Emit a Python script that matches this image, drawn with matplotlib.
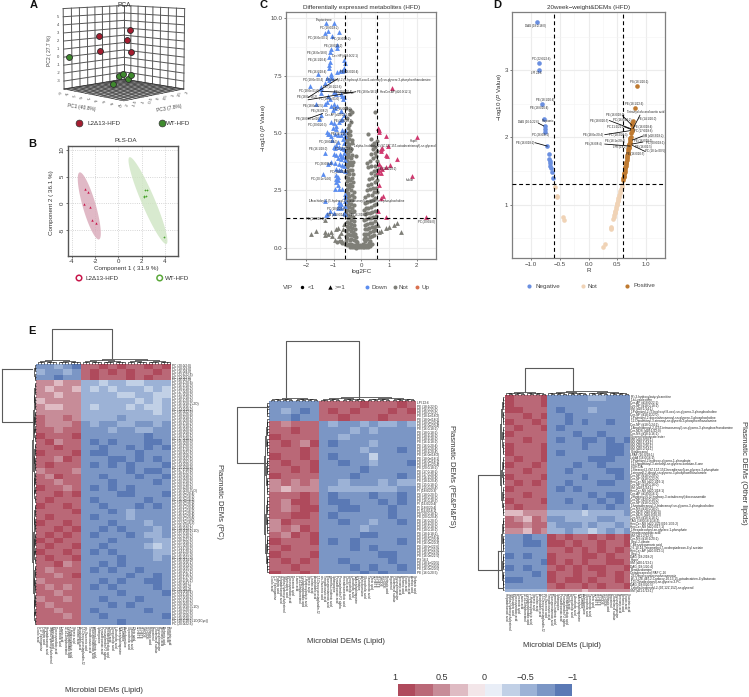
import numpy as np
import matplotlib
matplotlib.use("Agg")
import matplotlib.pyplot as plt
from matplotlib.collections import LineCollection
from matplotlib.colors import ListedColormap
from mpl_toolkits.mplot3d import proj3d

plt.rcParams['font.family'] = ['Liberation Sans', 'DejaVu Sans']
plt.rcParams['mathtext.fontset'] = 'custom'
plt.rcParams['mathtext.it'] = 'Liberation Sans:italic'
plt.rcParams['mathtext.rm'] = 'Liberation Sans'
W, H = 749, 697
fig = plt.figure(figsize=(W/100, H/100), dpi=100)

def ax_px(x0, y0, x1, y1, **kw):
    return fig.add_axes([x0/W, 1-y1/H, (x1-x0)/W, (y1-y0)/H], **kw)

over = ax_px(0, 0, W, H)
over.set_xlim(0, W); over.set_ylim(H, 0); over.axis('off'); over.set_zorder(5)

# ---------- Panel A data
PCA_RED_PC1 = [2.77, -1.26, 2.37, -1.14, 2.99]
PCA_RED_PC3 = [0.19, -0.82, 0.09, -0.78, 0.25]
PCA_RED_PC2 = [3.32, 2.58, 2.19, 0.71, 0.67]
PCA_GRN_PC1 = [-5.34, 1.89, 1.36, 2.99, 2.54, 0.58]
PCA_GRN_PC3 = [-1.84, -0.03, -0.16, 0.25, 0.14, -0.36]
PCA_GRN_PC2 = [-0.03, -2.09, -2.40, -2.29, -2.79, -3.42]
PC1_TICKS = [-6, -4, -2, 0, 2, 4, 6, 8, 10]
PC3_TICKS = [-2, -1.5, -1, -0.5, 0, 0.5, 1, 1.5, 2]
PC2_TICKS = [-3, -2, -1, 0, 1, 2, 3, 4, 5]

# ---------- Panel B data
PLS_RED_X = [-2.83, -2.6, -2.91, -2.46, -2.26, -1.94]
PLS_RED_Y = [2.69, 2.06, -0.06, -0.63, -3.13, -3.75]
PLS_GRN_X = [2.26, 2.46, 2.2, 2.37, 2.2, 3.89]
PLS_GRN_Y = [2.44, 2.56, 1.38, 1.31, 1.1, -6.31]
RED_ELLIPSE = dict(c=(-2.49, -0.5), a=(-0.8, 6.3), b=(0.58, 0))
GRN_ELLIPSE = dict(c=(2.54, 0.5), a=(-1.55, 8.15), b=(0.62, 0))

# ---------- Panel C data
C_DOWN = [(-1.27,9.78),(-.98,9.81),(-.8,9.42),(-1.22,9.45),(-1.31,9.35),(-1.07,9.24),(-.87,8.69),(-.87,8.82),(-1.1,8.65),(-1.13,8.55),
(-1.15,8.33),(-.62,8.18),(-.6,8.04),(-1.14,8.1),(-1.15,7.95),(-1.17,7.85),(-.61,7.85),(-.63,7.75),(-.68,7.72),(-.78,7.7),(-.87,7.68),
(-1.57,7.56),(-1.08,7.57),(-1.1,7.48),(-1.05,7.42),(-1.23,7.38),(-1.15,7.3),(-1.87,7.05),(-1.32,7.2),(-1.44,7.0),(-1.46,6.9),(-1.47,6.75),
(-.98,6.78),(-.9,6.72),(-.75,6.7),(-.7,6.62),(-.62,6.55),(-.65,6.48),(-1.2,6.6),(-1.13,6.5),(-1.25,6.35),(-1.62,6.27),(-1.3,6.25),(-1.1,6.2),
(-1.0,6.25),(-.88,6.2),(-.96,6.08),(-1.03,6.0),(-.75,5.98),(-1.45,5.8),(-1.52,5.6),(-.72,5.95),(-.62,5.8),(-.68,5.6),(-.75,5.55),(-1.08,5.5),
(-.98,5.42),(-.8,5.5),(-.9,5.3),(-1.02,5.2),(-.92,5.18),(-.7,5.15),(-.6,5.15),(-.62,5.0),(-1.25,5.05),(-1.22,4.98),(-1.15,4.95),(-1.1,4.85),
(-.95,4.95),(-.85,4.9),(-.75,4.9),(-.6,4.85),(-.65,4.75),(-1.05,4.68),(-.85,4.6),(-.62,4.55),(-.92,4.5),(-1.0,4.4),(-.95,4.35),(-.8,4.4),
(-.7,4.35),(-.62,4.3),(-1.32,4.15),(-.98,4.1),(-.9,4.05),(-.78,4.1),(-.62,4.15),(-.72,4.0),(-.65,3.95),(-.85,3.9),(-.72,3.85),(-.6,3.82),
(-1.1,3.75),(-.95,3.7),(-.8,3.65),(-.68,3.6),(-1.2,3.65),(-.62,3.55),(-.92,3.42),(-.72,3.4),(-.8,3.38),(-.6,3.35),(-1.38,3.2),(-.9,3.15),
(-.83,3.1),(-.92,3.0),(-.85,2.95),(-.9,2.85),(-.85,2.75),(-.82,2.55),(-.95,2.58),(-.68,2.55),(-.6,2.35),(-.6,2.2),(-.6,2.05),(-1.31,2.03),
(-.8,1.98),(-.75,1.92),(-.82,1.85),(-.75,1.75),(-.85,1.72),(-.6,1.8),(-1.12,1.6),(-1.0,1.5),(-1.25,1.45),(-1.27,1.42),(-.62,1.5),(-.6,1.45)]
C_UP = [(1.1,6.97),(.6,5.2),(.63,5.15),(.65,5.05),(.9,4.85),(2.0,4.82),(.96,4.45),(.76,4.35),(.72,4.3),(.7,4.2),(.88,4.05),(.92,3.98),(1.3,3.85),
(.65,3.65),(1.04,3.6),(.7,3.5),(.75,3.45),(.9,3.5),(.65,3.4),(.62,3.3),(.7,3.25),(1.85,3.14),(.65,2.73),(.78,2.25),(.7,2.15),(.62,1.62),(.88,1.35),(2.32,1.32)]
C_NOT_TRI = [(-1.83,.6),(-1.63,.72),(-1.32,1.2),(-1.3,.7),(-1.3,.55),(-1.2,.6),(-1.1,.7),(-1.05,.5),(-.95,.35),(-.9,.8),(-.85,.85),(-.8,.5),(-.75,.65),
(-.7,.3),(-.65,.8),(-.62,1.05),(.65,.7),(.72,.72),(.88,.85),(1.0,.9),(1.17,1.0),(1.3,1.08),(1.42,.68),(.6,1.0)]
C_NOT = [(-.42,.05),(-.35,.02),(-.28,.05),(-.2,.0),(-.15,.03),(-.08,.02),(0,.03),(.05,.02),(.1,.05),(.18,.03),(.25,.05),(.32,.08),(.38,.15),(-.5,.1),
(-.6,.18),(-.68,.22),(-.78,.3),(-.88,.25),(-.55,.28),(-.45,.18),(-.38,.15),(-.3,.12),(-.22,.1),(-.12,.1),(-.05,.12),(.05,.15),(.12,.12),(.2,.13),(.28,.2),(.33,.28),
(-.15,.25),(-.2,.3),(-.28,.35),(-.36,.38),(-.42,.35),(-.5,.42),(-.55,.5),(-.18,.45),(-.25,.5),(-.33,.55),(-.4,.55),(-.47,.62),(-.22,.62),(-.3,.7),(-.38,.72),
(-.48,.8),(-.55,.75),(-.24,.82),(-.33,.88),(-.42,.9),(-.5,.95),(-.27,1.0),(-.37,1.05),(-.45,1.1),(-.53,1.12),(-.28,1.18),(-.38,1.22),(-.47,1.28),(-.3,1.35),
(-.4,1.4),(-.5,1.42),(-.55,1.5),(-.32,1.55),(-.42,1.6),(-.5,1.65),(-.35,1.72),(-.45,1.78),(-.53,1.82),(-.38,1.9),(-.47,1.95),(-.55,2.0),(-.42,2.08),(-.5,2.15),
(-.45,2.25),(-.53,2.3),(-.47,2.4),(-.55,2.45),(-.5,2.55),(-.45,2.65),(-.52,2.72),(-.42,2.8),(-.5,2.9),(-.4,2.95),(-.48,3.05),(-.55,3.1),(-.44,3.2),(-.52,3.25),
(-.47,3.35),(-.4,3.4),(-.5,3.5),(-.45,3.6),(-.52,3.65),(-.42,3.72),(-.5,3.8),(-.55,3.88),(-.45,3.95),(-.52,4.0),(-.47,4.1),(-.55,4.15),(-.42,4.22),(-.5,4.28),
(-.45,4.38),(-.52,4.45),(-.43,4.52),(-.5,4.6),(-.55,4.68),(-.45,4.75),(-.52,4.82),(-.42,4.9),(-.47,5.0),(-.4,5.1),(-.48,5.2),(-.45,5.35),(-.38,5.5),(-.5,5.65),
(-.42,5.85),(-.35,5.9),(-.55,6.1),(-.42,6.0),(-.2,4.0),
(-.33,2.1),(-.35,2.3),(-.37,2.5),(-.32,2.7),(-.3,2.85),(-.33,3.05),(-.3,3.2),(-.35,3.4),(-.32,3.6),(-.3,3.75),(-.36,3.9),(-.33,4.05),(-.38,4.3),(-.35,4.55),(-.33,4.7),
(-.25,1.6),(-.25,1.85),(-.28,2.2),(-.26,2.45),
(.12,.3),(.08,.4),(.15,.45),(.22,.4),(.3,.45),(.38,.5),(.45,.55),(.1,.6),(.18,.62),(.25,.6),(.33,.68),(.42,.72),(.5,.78),(.12,.8),(.2,.82),(.28,.85),(.37,.9),
(.45,.92),(.53,.95),(.14,1.0),(.22,1.02),(.3,1.08),(.4,1.1),(.48,1.15),(.1,1.2),(.18,1.25),(.27,1.28),(.35,1.3),(.44,1.35),(.52,1.38),(.12,1.45),(.2,1.5),(.3,1.52),
(.4,1.55),(.5,1.6),(.1,1.65),(.17,1.72),(.25,1.75),(.35,1.78),(.45,1.85),(.52,1.92),(.12,1.95),(.2,2.0),(.3,2.05),(.42,2.1),(.5,2.15),(.15,2.2),(.25,2.28),(.37,2.32),
(.46,2.42),(.55,2.45),(.2,2.5),(.3,2.55),(.42,2.6),(.52,2.62),(.25,2.72),(.35,2.8),(.48,2.85),(.55,2.95),(.28,3.0),(.4,3.05),(.5,3.15),(.57,3.2),(.35,3.25),(.45,3.35),
(.55,3.4),(.25,3.5),(.35,3.55),(.5,3.55),(.22,3.7),(.3,3.8),(.55,3.8),(.42,3.9),(.52,4.0),(.35,4.1),(.48,4.15),(.55,4.2),(.42,4.3),(.5,4.38),(.38,4.5),(.47,4.55),
(.25,4.97),(.35,4.75),(.51,5.92),(.55,4.65)]
C_LABELS = [("Tropisetrone",-1.35,9.93),("PC (18:0/18:2)",-1.15,9.57),("PC (16:0e/20:1)",-1.55,9.15),("PC (16:0/18:2)",-.72,9.12),
("PE (18:0/18:2)",-1.03,8.8),("PE (16:0e/18:0)",-1.6,8.5),("Cer-HP (d18:0/22:1)",-.58,8.38),("PE (16:1/20:4)",-1.6,8.2),
("PE (16:0/18:4)",-1.6,7.66),("PE (16:0/20:4)",-.45,7.65),("PC (18:0e/20:4)",-1.75,7.33),("PC (18:1/22:6)",-1.05,7.0),
("1-Palmitoyl-2-(5-hydroxyl-8-oxo-6-octenoyl)-sn-glycero-3-phosphoethanolamine",.61,7.31),("PC (18:0e/21:0)",-1.9,6.85),
("HexCer-AP (d20:0/12:1)",1.22,6.79),("PE (18:0e/18:1)",.2,6.79),("PE (20:0/20:4)",-.65,6.78),("PE (18:0e/18:2)",-1.95,6.55),
("PC (14:0e/21:0)",-1.15,6.48),("PE (18:0e/22:5)",-1.75,6.2),("PC (16:0/18:2)",-.7,6.05),("PE (26:0/8:2)",-1.5,5.95),
("Cer-AP (d18:0/22:1)",-.85,5.8),("PE (18:0/18:1e/20:5)",-1.9,5.6),("PE (18:0/18:5)",-.65,5.53),("PC (20:0/20:3)",-1.6,5.35),
("PE (16:1/20:4)",-.75,4.95),("PC (18:0/18:3)",-1.2,4.6),("PE (16:1/18:0)",-1.55,4.3),("PC (18:0/18:2)",-.62,4.3),
("1-alpha-linolenoyl-2-(9Z,12Z,15Z-octadecatrienoyl)-sn-glycerol",1.22,4.42),("Hupin",1.89,4.67),("PC (26:0/8:4)",-1.38,3.63),
("PE (16:0/18:2)",.95,3.43),("PC (20:1e/14:0)",-1.47,3.0),("Indole",1.76,2.95),("PC (18:0/18:2)",-.8,3.3),
("1-Arachidoyl-2-(5-hydroxyl-8-oxo-octanoyl)-sn-glycero-3-phosphocholine",-.17,2.03),("PC (18:0/20:4)",-.9,1.7),
("SM (d18:0/14:1)",-.88,1.42),("PE (16:2/18:0)",-.1,1.42),("PE (14:0/18:2)",-1.65,1.27),("PC (20:0/4:0)",2.36,1.13)]
C_LEADERS = [(-1.92,6.55,-.85,7.37),(-1.43,6.82,-.3,6.75),(-1.92,6.45,-.2,6.8),(-1.92,5.63,-1.4,5.85)]

# ---------- Panel D data
D_NEG = [(-.89,3.71),(-.867,3.1),(-.86,3.0),(-.81,2.49),(-.78,2.28),(-.763,2.17),(-.758,2.12),(-.752,2.08),(-.717,1.87),(-.694,1.75),
(-.683,1.68),(-.678,1.65),(-.672,1.62),(-.667,1.58),(-.655,1.54),(-.643,1.48),(-.618,1.39)]
D_NOT = [(-.584,1.26),(-.55,1.13),(-.545,1.11),(-.45,.81),(-.434,.77),(.25,.365),(.277,.42),(.38,.63),(.385,.65),(.39,.67),(.43,.78),(.44,.81),
(.445,.84),(.45,.87),(.455,.89),(.46,.91),(.47,.94),(.48,.97),(.49,1.0),(.495,1.01),(.5,1.03),(.505,1.05),(.51,1.07),(.515,1.09),(.52,1.11),(.53,1.14),
(.54,1.17),(.55,1.2),(.56,1.23),(.57,1.26),(.58,1.29)]
D_POS = [(.6,1.36),(.604,1.39),(.608,1.41),(.612,1.43),(.616,1.45),(.62,1.47),(.625,1.49),(.63,1.52),(.634,1.54),(.638,1.56),(.642,1.58),(.646,1.6),
(.65,1.62),(.655,1.64),(.66,1.67),(.664,1.69),(.668,1.71),(.672,1.73),(.676,1.75),(.68,1.77),(.685,1.79),(.69,1.82),(.694,1.84),(.698,1.86),(.702,1.88),
(.706,1.9),(.71,1.92),(.715,1.95),(.72,1.97),(.725,1.99),(.73,2.01),(.74,2.07),(.745,2.1),(.75,2.13),(.755,2.18),(.76,2.22),(.765,2.25),(.798,2.43),(.832,2.76)]
D_LABELS = [("DAG (18:2/18:0)",-.93,3.65),("PC (22:6/22:6)",-.82,3.16),("LPI 22:6",-.9,2.955),("PE (18:1/20:4)",-.76,2.55),("PE (18:0/20:4)",-.85,2.44),
("Propionic",-.7,2.25),("DAG (16:1/22:6)",-1.05,2.23),("PC (26:0/8:1)",-.83,2.03),("PE (16:0/18:2)",-1.1,1.92),("PS (18:1/20:1)",.87,2.82),
("PE (18:1/22:6)",.79,2.49),("Tetrahydrofurandiacetic acid",.99,2.375),("PE (16:0/18:2)",.46,2.34),("PE (18:0/20:5)",.18,2.25),("PC (16:0/18:2)",.58,2.26),
("PE (14:1/20:0)",1.01,2.27),("PC 21:2/21:1",.47,2.16),("PE (16:0/18:4)",.95,2.16),("PC (17:0/18:6)",.94,2.09),("PE (18:0e/20:4)",.08,2.04),
("PC (18:2/20:3)",.51,2.04),("SM (d18:3/18:2)",1.12,2.02),("PE (18:1e/20:4)",.45,1.94),("PE (16:0/18:1)",.94,1.95),("PC (20:0/18:1)",1.15,1.91),
("PE (26:0/8:4)",.09,1.9),("LPE (18:2)",.54,1.85),("PE (16:0/2:5)",.95,1.86),("PC (18:1e/20:5)",1.15,1.79),("PE (16:0/20:5)",.8,1.755)]
D_LEADERS = [(-.87,2.21,-.78,2.17),(-.93,1.92,-.72,1.87),(.89,2.33,.77,2.13),(.59,2.32,.75,2.18),(.36,2.25,.73,2.13),(.61,2.16,.73,2.12),
(.28,2.04,.72,2.1),(.94,2.02,.76,1.96),(.94,1.93,.75,1.9),(.28,1.9,.72,1.87),(.98,1.79,.76,1.88)]

# ---------- Panel E data: palette levels 0 (r=1) .. 9 (r=-1), cells read coarsely
E_PC = ["887891101011010","788781010101101","889881011101011","223227767766777","232237676777676","223227777667766","322227777776767",
"233227677767667","222227777777767","122127777877777","122218788778878","112118887887788","011108888888988","102118989888998","110118898898989",
"011108998889888","112018889989898","101118989898889","211128888898998","120118898889889","112118889888898","011218989898888","110108888998889",
"101118988888988","011018898889898","111108889878888","101118988878888","011018889888788","110108898988878","101018988898778","010118889888877",
"101108898888767","011018989888877","101108888988878","110218898988888","121118989889888","112108888898898","211118898988998","121218989888898",
"112118888988889","211218898889888","121118889898888","112118988888988","111218898888889","111118888988888"]
E_PE = ["888881111011101","878981010111010","889881101110111","121118788787787","110118887878888","011118878888888","101208988878888","111018888788898",
"011018988868888","101108898878889","110108888988888","011118889888898","212128878887877","232228777777788","111018988898898","120018998889898",
"121008899888988","110018988888988","201118898878898","212018888788888","120108888998888","011108989888898","101118889898888","011108888889988",
"101018898888988","110118889898898","011018888989888"]
E_OT = ["011108888877888","011108888888888","001118988878888","110108898888888","011018898988988","101108988888888","011118889889888","110118988998989",
"011108888988998","011108988888998","101108888899988","011018889889888","110118898888998","011108888988898","101018898889988","011118989888888",
"110118888898998","011108898889898","101118888988988","332227777677778","123128877778877","112117888787787","223127787767878","889880101101010",
"889980010110110","888881101010101","989880111001011","888890101011001","989881010100110","888980110110101","998880100101101","888881011010110",
"777772222322222"]
PC_ROWS = ["PC (20:0/2:0)","PC (18:0/3:0)","PC (16:0/4:0)","PC (22:6/22:6)","PC (14:0/2:0)","PC (16:0/2:0)","PC (18:1/20:4)","PC (16:1/18:2)",
"PC (18:2/18:2)","PC (17:0/20:4)","PC (15:0/18:2)","PC (18:3/18:2)","PC (16:1/20:4)","PC (16:0/18:2+2O)","PC (16:0/16:1)","PC (14:0/18:2)",
"PC (16:0/22:6)","PC (18:2/20:4)","PC (18:0/18:1)","PC (16:0/20:4)","PC (18:1/18:2)","PC (16:0/18:1)","PC (18:0/20:4)","PC (18:0/18:2)",
"PC (18:1/18:1)","PC (17:0/18:2)","PC (16:0/20:3)","PC (18:0/20:3)","PC (18:1/20:3)","PC (20:1/18:2)","PC (18:0/22:6)","PC (20:0/18:2)",
"PC (18:0/22:5)","PC (16:0/22:5)","PC (14:0/20:4)","PC (15:0/20:4)","PC (17:1/18:2)","PC (18:1/22:6)","PC (19:0/18:2)","PC (19:0/20:4)",
"PC (20:2/18:2)","PC (20:3/18:2)","PC (20:4/20:4)","PC (16:0/20:3+O)","PC (16:0e/20:4)","PC (16:0e/18:1)","PC (16:0e/18:2)","PC (18:0e/18:2)",
"PC (18:0e/20:4)","PC (18:1e/20:4)","PC (18:1e/18:2)","PC (16:1e/20:4)","PC (20:0e/20:4)","PC (20:1e/14:0)","PC (22:0e/18:2)","PC (16:0/19:1)",
"PC (18:0/19:1)","PC (18:0/18:2+1O)","PC (22:5/18:2)","PC (22:4/18:2)","PC (20:4/22:6)","PC (21:0/18:2)","PC (21:0/20:4)","PC (14:1/18:2)",
"PC (14:1/20:4)","PC (16:0/15:0)","PC (16:0/17:0)","PC (16:0/14:0)","PC (18:0/16:1)","PC (18:0/14:0)","PC (18:0/15:0)","PC (18:0/17:1)",
"PC (18:1/16:1)","PC (18:1/17:0)","PC (18:2/16:1)","PC (26:0/8:1)","PC (26:0/8:2)","PC (26:0/8:4)","PC (24:0/18:2)","PC (24:1/18:2)",
"PC (22:0/18:2)","PC (22:1/18:2)","PC (20:0/20:3)","PC (16:0/18:3+1O)","PC (18:3/20:4)","PC (18:3/22:6)","PC (16:0/18:3)","PC (18:0/18:3)",
"PC (18:1/18:1+1O(1Cyc))","PC (20:0/22:6)"]
PE_ROWS = ["LPI 22:6","PE (18:1/22:6)","PE (16:0/22:6)","PE (18:0/22:6)","PE (18:1e/18:2)","PE (18:0e/18:2)","PE (18:0e/20:4)","PE (16:0e/20:4)",
"PE (16:0/18:2)","PE (18:0/18:2)","PE (18:1/18:2)","PE (18:2/18:2)","PE (16:1/18:2)","PE (16:0/20:4)","PE (18:0/20:4)","PE (18:1/20:4)",
"PE (16:0e/18:2)","PE (18:0e/18:1)","PE (16:0e/18:1)","PE (18:1e/20:4)","PE (20:0/18:2)","PE (17:0/18:2)","PE (17:0/20:4)","PE (16:1/20:4)",
"PE (18:2/20:4)","PE (15:0/18:2)","PE (15:0/20:4)","PI (18:0/20:3)","PE (18:0/20:3)","PE (18:0/18:3)","PE (16:0/18:3)","PI (16:0/20:4)",
"PI (18:0/20:4)","PI (16:0/18:1)","PE (20:0/18:1)","PE (20:0/20:4)","PE (16:0/20:3)","PE (18:1/20:3)","PE (16:0/18:1)","PE (18:0/18:1)",
"PE (18:1/18:1)","PE (18:1e/18:1)","PE (18:0e/20:3)","PE (16:0e/20:3)","PE (18:0e/22:6)","PE (18:1e/22:6)","PE (16:0e/22:6)","PE (16:0e/22:5)",
"PS 18:2","PE (18:1e/20:5)","PE (18:0e/20:5)","PE (16:0e/20:5)","PE (16:0/20:5)"]
OT_ROWS = ["(R)-3-hydroxybutyrylcarnitine","L-a-Lysolecithin","Cer-AP (d18:0/22:1)","Cer-NP (d18:0/18:1)","SM (d18:1/14:1)",
"1-Palmitoyl-2-(5-hydroxyl-8-oxo)-sn-glycero-3-phosphocholine","Cer-NP (d18:1/22:0)","1-Palmitoyl-2-docosahexaenoyl-sn-glycero-3-phosphocholine",
"1,2-Dipalmitoyl-3-stearoyl-sn-glycero-3-phosphoethanolamine","Cer-NP (d18:0/24:1)","1-Arachidonoyl-2-(15Z-tetracosenoyl)-sn-glycero-3-phosphoethanolamine",
"Cer-NDS (d18:1/22:0)","Cer-NS (d18:1/16:1)","Glycerol tributyrate ester","SM (d18:0/18:1)","SM (d20:1/14:1)","SM (d18:2/16:1)","SM (d20:2/14:1)",
"Octadecanal","LPAF (16:0/18:1)","LdIdA (16:0/16:1)","1-Palmitoyl-2-hydroxy-glycero-1-phosphate","1,2-Dipalmitoyl-3-stearoyl-sn-glycero-sorbitan-6-one",
"6-OH-DA","1-Stearoyl-2-(9Z,12Z,15Z-hexadienoyl)-sn-glycero-3-phosphate","1-stearoyl-2-oleoyl-sn-glycero-3-phosphoethanolamine","Cer-NP (d18:0/20:0)",
"Cer-NP (d18:0/22:0)","HexCer-NS (d20:1/16:1)","Cer-NP (d18:0/18:0)","SM (d18:1/24:1)","HexCer-NS (d20:1/18:1)","Cer-AP (d18:0/16:1)",
"2-Hydroxy-N-(2-hydroxy-3-octadecenyl)docosanamide","Cer-NP (d20:0/18:0)","Cer-NP (d18:0/24:0)",
"1-heptadecanoyl-2-tridecenoyl-sn-glycero-3-phosphocholine","Cer-NS (d18:0/18:0)","Cer-NDS (d18:0/16:0)","Cer-NDS (d18:0/20:0)","Cer-NS (d18:1/18:1)",
"TAG (18:0/18:1/18:2)","HexCer-NS (d20:1/22:0/16:1/36:2)","HexCer-NS (d20:0/17:1)","1-Hexadecanoyl-sn-glycero-1-phosphate","Tetradecanedioic acid",
"SM (d21:2/12:0)","Cer-NS (d18:1/20:1)","Oleyl-2-oleate","7-Benzylcoumaric acid","2,6,10,14-Tetramethyl-7-oxoheptadecan-4-yl acetate",
"HexCer-AP (d20:0/12:1)","Oleyl-2","DAG (18:2/18:2)","Hupin","SM (d20:1/13:1)","DAG (18:1/20:4)","Bendazolamine","Octadecanediol PAF C-16",
"2,3-Dihydroxydocosahexaenoate","(S)-3-(2E,4E)-2-Carboxy-10,13,15-octadecatrien-4-ylbutanoic","1-(3-Octadecanoyl)-sn-glycero-3-PC","DAG (18:0/20:5)",
"1-alpha-linolenoyl-2-(9Z,12Z,15Z)-sn-glycerol","SM (d21:1/13:1)"]
MICROBIAL = ["Oxalic acid","C17 Sphinganine","Palmitic acid","Heptadecanoic acid","7alpha-Hydroxycholesterol","Myristoleic acid","Docosanedioic acid",
"Decanoic acid","Lauric acid","13,14-Dihydroretinol","Lysophosphatidic acid","2-Hydroxybutyric acid","Stearic acid","Linoleic acid","Arachidonic acid",
"15-Deoxy-prostaglandin J2","cis-Vaccenic acid","Tetradecanoic acid","Eicosapentaenoic acid","gamma-Linolenic acid","Sphingosine","Pentadecanoic acid",
"Prostaglandin F2 alpha","Hexadecanedioic acid","Cholic acid","Deoxycholic acid","Lithocholic acid","N-Acetylsphingosine","L-Carnitine","Acetylcarnitine",
"Glycocholic acid","Taurocholic acid","Oleic acid","12-HETE","15-HETE","9-HODE","13-HODE","Retinoic acid","Ergosterol","Cholesterol sulfate",
"Phytosphingosine","Nervonic acid","Behenic acid","Erucic acid","Succinic acid","Azelaic acid","Sebacic acid"]
BAR_LEVELS = [0, 1, 2, 3, 4, 5, 6, 7, 8, 9]
BAR_TICKS = ["1", "0.5", "0", "\u22120.5", "\u22121"]
PALETTE = ["#af4a5c","#ba6877","#c78c98","#dfbbc3","#f3e6e9","#e9eef7","#c1d0e6","#9cb2d6","#7b96c5","#5a79b5"]

FS_TICK, FS_TITLE = 4.4, 4.5
# ---------- Panel A
AS = 141
ax = fig.add_axes([(122-AS/2)/W, 1-(51+AS/2)/H, AS/W, AS/H], projection='3d')
ax.set_proj_type('persp', focal_length=0.85)
ax.view_init(elev=6.8, azim=-45)
ax.set_box_aspect((1, 1, .95), zoom=1.0)
ax.set_xlim(-6, 10); ax.set_ylim(-2, 2); ax.set_zlim(-4, 6)
ax.set_axis_off(); ax.patch.set_alpha(0); ax.computed_zorder = False
GC = '#555555'
for z in PC2_TICKS + [-4, 6]:
    ax.plot([-6, -6], [-2, 2], [z, z], color=GC, lw=.7, zorder=1)
    ax.plot([-6, 10], [2, 2], [z, z], color=GC, lw=.7, zorder=1)
for y in PC3_TICKS:
    ax.plot([-6, -6], [y, y], [-4, 6], color=GC, lw=.7, zorder=1)
for x in PC1_TICKS:
    ax.plot([x, x], [2, 2], [-4, 6], color=GC, lw=.7, zorder=1)
for x in np.arange(-6, 10.1, 1):
    ax.plot([x, x], [-2, 2], [-4, -4], color='#333333', lw=.45, zorder=1)
for y in np.arange(-2, 2.01, .25):
    ax.plot([-6, 10], [y, y], [-4, -4], color='#333333', lw=.45, zorder=1)
ax.scatter(PCA_RED_PC1, PCA_RED_PC3, PCA_RED_PC2, s=18, c='#a51d30', edgecolors='#2b2b2b', linewidths=.6, depthshade=False, zorder=3)
ax.scatter(PCA_GRN_PC1, PCA_GRN_PC3, PCA_GRN_PC2, s=18, c='#3f8a2e', edgecolors='#2b2b2b', linewidths=.6, depthshade=False, zorder=3)
ax.apply_aspect()
M3 = ax.get_proj()
def text3(x, y, z, s, **kw):
    a, b, _ = proj3d.proj_transform(x, y, z, M3)
    dx, dy = ax.transData.transform((a, b))
    over.text(dx, H - dy, s, fontsize=3, color='#444444', ha='center', va='center', **kw)
for t in PC1_TICKS:
    text3(t, -2.35, -4.4, str(t), rotation=-70)
for t in PC3_TICKS:
    text3(10.8, t, -4.4, str(t), rotation=70)
for t in PC2_TICKS:
    text3(-6.7, -2.2, t, str(t))
over.text(124, 5.5, "PCA", ha='center', va='center', fontsize=4.8, color='#333333')
over.text(81, 108, "PC1 (40.8%)", rotation=-8, ha='center', va='center', fontsize=3.6, color='#444444')
over.text(169, 108, "PC3 (7.8%)", rotation=10, ha='center', va='center', fontsize=3.6, color='#444444')
over.text(50, 50.7, "PC2 ( 27.7 %)", rotation=90, ha='center', va='center', fontsize=3.6, color='#444444')
over.scatter([79.3], [123], s=24, c='#a51d30', edgecolors='#333333', linewidths=.5)
over.scatter([161.7], [123], s=24, c='#3f8a2e', edgecolors='#333333', linewidths=.5)
over.text(87, 123.5, "L2\u039413-HFD", va='center', fontsize=4.5, color='#333333')
over.text(166, 123.5, "WT-HFD", va='center', fontsize=4.5, color='#333333')

# ---------- Panel B
ax = ax_px(67.7, 145.7, 178.3, 256)
ax.set_xlim(-4.34, 5.14); ax.set_ylim(-9.9, 10.8)
t = np.linspace(0, 2*np.pi, 200)
for e, col in ((RED_ELLIPSE, '#d9a8b8'), (GRN_ELLIPSE, '#cfe5c3')):
    ax.fill(e['c'][0]+e['a'][0]*np.cos(t)+e['b'][0]*np.sin(t), e['c'][1]+e['a'][1]*np.cos(t)+e['b'][1]*np.sin(t),
            color=col, alpha=.8, lw=0, zorder=2)
ax.scatter(PLS_RED_X, PLS_RED_Y, marker='^', s=3, c='#c8174b', lw=0, zorder=3)
ax.scatter(PLS_GRN_X, PLS_GRN_Y, marker='+', s=4, c='#4aa52e', lw=.5, zorder=3)
ax.set_xticks([-4, -2, 0, 2, 4]); ax.set_yticks([-5, 0, 5, 10])
ax.set_xticklabels(['-4', '-2', '0', '2', '4'])
ax.set_yticklabels(['-5', '0', '5', '10'], rotation=90, va='center')
ax.grid(True, ls=':', color='#c8c8c8', lw=.6); ax.set_axisbelow(True)
ax.tick_params(length=1.5, width=.5, labelsize=FS_TICK, pad=.6, colors='#333333')
for s in ax.spines.values():
    s.set_color('#555555'); s.set_linewidth(1)
over.text(126, 140, "PLS-DA", ha='center', va='center', fontsize=FS_TITLE, color='#333333')
over.text(126.5, 268.5, "Component 1 ( 31.9 %)", ha='center', va='center', fontsize=FS_TITLE, color='#333333')
over.text(52, 203, "Component 2 ( 36.1 %)", rotation=90, ha='center', va='center', fontsize=FS_TITLE, color='#333333')
over.scatter([79], [278], s=16, facecolors='none', edgecolors='#c8174b', linewidths=1.1)
over.scatter([159.7], [278], s=16, facecolors='none', edgecolors='#5aa83a', linewidths=1.1)
over.text(85.7, 278.3, "L2\u039413-HFD", va='center', fontsize=4.5, color='#333333')
over.text(165.3, 278.3, "WT-HFD", va='center', fontsize=4.5, color='#333333')

# ---------- shared volcano styling
def style_volcano(ax):
    ax.grid(True, which='major', color='#ececec', lw=.8)
    ax.grid(True, which='minor', color='#f3f3f3', lw=.4)
    ax.set_axisbelow(True)
    ax.tick_params(which='major', length=1.5, width=.5, labelsize=FS_TICK, pad=1.2, colors='#444444')
    ax.tick_params(which='minor', length=0)
    for s in ax.spines.values():
        s.set_color('#7f7f7f'); s.set_linewidth(.9)

def xy(pairs):
    a = np.array(pairs)
    return a[:, 0], a[:, 1]

# ---------- Panel C
ax = ax_px(286.3, 11.7, 436.3, 259)
ax.set_xlim(-2.71, 2.71); ax.set_ylim(-.49, 10.29)
ax.set_xticks([-2, -1, 0, 1, 2]); ax.set_xticks([-1.5, -.5, .5, 1.5], minor=True)
ax.set_yticks([0, 2.5, 5, 7.5, 10]); ax.set_yticks([1.25, 3.75, 6.25, 8.75], minor=True)
ax.set_xticklabels(['\u22122', '\u22121', '0', '1', '2'])
ax.set_yticklabels(['0.0', '2.5', '5.0', '7.5', '10.0'])
style_volcano(ax)
ax.scatter(*xy(C_NOT), s=9, c='#7f7f78', lw=0, zorder=2)
ax.scatter(*xy(C_NOT_TRI), s=12, marker='^', c='#7f7f78', lw=0, zorder=2)
ax.scatter(*xy(C_DOWN), s=12, marker='^', c='#5b8def', lw=0, zorder=3)
ax.scatter(*xy(C_UP), s=12, marker='^', c='#d0396f', lw=0, zorder=3)
for v in (-.585, .585):
    ax.axvline(v, color='k', lw=.8, ls=(0, (3.5, 2.5)), zorder=4)
ax.axhline(1.3, color='k', lw=.8, ls=(0, (3.5, 2.5)), zorder=4)
for s_, x_, y_ in C_LABELS:
    ax.text(x_, y_, s_, fontsize=2.1, ha='center', va='center', color='#222222', zorder=6)
for x0, y0, x1, y1 in C_LEADERS:
    ax.plot([x0, x1], [y0, y1], color='k', lw=.55, zorder=5)
ax.set_xlabel("log2FC", fontsize=FS_TITLE, labelpad=1, color='#333333')
ax.set_ylabel("\u2212log10 ($P$ Value)", fontsize=FS_TITLE, color='#333333')
ax.yaxis.set_label_coords(-.122, .53)
ax.set_title("Differentially expressed metabolites (HFD)", fontsize=FS_TITLE, pad=2, color='#333333')
for x_, s_ in ((282.7, "VIP"), (307.7, "<1"), (335, ">=1"), (371, "Down"), (398.7, "Not"), (422, "Up")):
    over.text(x_, 287.5, s_, va='center', fontsize=FS_TITLE, color='#444444')
over.scatter([301.7], [287], s=6, c='k', lw=0)
over.scatter([330], [286.5], s=10, marker='^', c='k', lw=0)
over.scatter([367], [287], s=8, c='#5b8def', lw=0)
over.scatter([395], [287], s=8, c='#7f7f78', lw=0)
over.scatter([417], [287], s=8, c='#d9704f', lw=0)

# ---------- Panel D
ax = ax_px(512, 11.7, 665.3, 258.3)
ax.set_xlim(-1.33, 1.33); ax.set_ylim(.2, 3.87)
ax.set_xticks([-1, -.5, 0, .5, 1]); ax.set_xticks([-.75, -.25, .25, .75], minor=True)
ax.set_yticks([1, 2, 3]); ax.set_yticks([.5, 1.5, 2.5, 3.5], minor=True)
ax.set_xticklabels(['\u22121.0', '\u22120.5', '0.0', '0.5', '1.0'])
style_volcano(ax)
ax.scatter(*xy(D_NOT), s=11, c='#f0d3b6', lw=0, zorder=2)
ax.scatter(*xy(D_NEG), s=11, c='#6a8fe0', lw=0, zorder=3)
ax.scatter(*xy(D_POS), s=11, c='#bf7a30', lw=0, zorder=3)
for v in (-.6, .6):
    ax.axvline(v, color='k', lw=.8, ls=(0, (3.5, 2.5)), zorder=4)
ax.axhline(1.3, color='k', lw=.8, ls=(0, (3.5, 2.5)), zorder=4)
for s_, x_, y_ in D_LABELS:
    ax.text(x_, y_, s_, fontsize=2.1, ha='center', va='center', color='#222222', zorder=6)
for x0, y0, x1, y1 in D_LEADERS:
    ax.plot([x0, x1], [y0, y1], color='k', lw=.55, zorder=5)
ax.set_xlabel("R", fontsize=FS_TITLE, labelpad=.5, color='#333333')
ax.set_ylabel("\u2212log10 ($P$ Value)", fontsize=FS_TITLE, color='#333333')
ax.yaxis.set_label_coords((503.5-512)/153.3, .655)
ax.set_title("20week\u2212weight&DEMs (HFD)", fontsize=FS_TITLE, pad=2, color='#333333')
for x_, y_, s_ in ((535.7, 286.5, "Negative"), (588, 286.5, "Not"), (634, 285.5, "Positive")):
    over.text(x_, y_, s_, va='center', fontsize=FS_TITLE, color='#444444')
over.scatter([529], [286], s=9, c='#6a8fe0', lw=0)
over.scatter([583], [286], s=9, c='#f0d3b6', lw=0)
over.scatter([627], [285.5], s=9, c='#bf7a30', lw=0)

# ---------- Panel E
CMAP = ListedColormap(PALETTE)

def tree(lo, hi, scale, segs):
    if hi - lo == 1:
        return lo + .5, 0.
    mid = (lo + hi) // 2
    c1, h1 = tree(lo, mid, scale, segs)
    c2, h2 = tree(mid, hi, scale, segs)
    h = scale * np.sqrt(hi - lo)
    segs.append(((c1, h1), (c1, h), (c2, h), (c2, h2)))
    return (c1 + c2) / 2, h

def draw_trees(groups, n, box, side, size):
    x0, y0, x1, y1 = box
    for lo, hi in groups:
        segs = []
        tree(lo, hi, size / np.sqrt(max(g[1]-g[0] for g in groups)), segs)
        if side == 'top':
            lines = [[(x0+(x1-x0)*c/n, y0-h-.5) for c, h in s] for s in segs]
        else:
            lines = [[(x0-h-.5, y0+(y1-y0)*c/n) for c, h in s] for s in segs]
        over.add_collection(LineCollection(lines, colors='#111111', linewidths=.45))

def heatmap(box, levels, row_labels, col_labels, fs=2.25):
    x0, y0, x1, y1 = box
    ax = ax_px(x0, y0, x1, y1)
    n, m = len(row_labels), len(col_labels)
    coarse = np.array([[int(c) for c in row] for row in levels])
    ri = np.arange(n) * coarse.shape[0] // n
    ci = np.arange(m) * coarse.shape[1] // m
    fine = coarse[ri][:, ci]
    ax.imshow(fine, cmap=CMAP, vmin=-.5, vmax=9.5, aspect='auto', interpolation='nearest')
    yy, xx = np.nonzero((fine <= 2) | (fine >= 7))
    ax.scatter(xx, yy, s=.4, c='white', marker='s', lw=0, alpha=.6)
    ax.set_xlim(-.5, m-.5); ax.set_ylim(n-.5, -.5)
    ax.yaxis.tick_right()
    ax.set_yticks(np.arange(n)); ax.set_yticklabels(row_labels, fontsize=fs, color='#222222')
    ax.set_xticks(np.arange(m)); ax.set_xticklabels(col_labels, fontsize=fs, rotation=270, ha='center', va='top', color='#222222')
    ax.tick_params(length=0, pad=.8)
    for s in ax.spines.values():
        s.set_visible(False)

H1, H2, H3 = (36, 364, 171, 625.3), (269, 401.3, 416, 573.7), (504.7, 395.3, 629.3, 591.7)
heatmap(H1, E_PC, PC_ROWS, MICROBIAL[:45])
heatmap(H2, E_PE, PE_ROWS, MICROBIAL)
heatmap(H3, E_OT, OT_ROWS, MICROBIAL[3:45])
draw_trees([(0, 15), (15, 45)], 45, H1, 'top', 5)
draw_trees([(0, 6), (6, 90)], 90, H1, 'left', 4)
draw_trees([(0, 16), (16, 47)], 47, H2, 'top', 4)
draw_trees([(0, 5), (5, 53)], 53, H2, 'left', 5)
draw_trees([(0, 14), (14, 42)], 42, H3, 'top', 4)
draw_trees([(0, 40), (40, 65)], 65, H3, 'left', 4)

BR = dict(color='#5a5a5a', lw=.8)
over.plot([52.3, 52.3, 112, 112], [360, 329.3, 329.3, 358], **BR)
over.plot([1.7, 32, None, 1.7, 1.7, 33], [369, 369, None, 369, 422, 422], **BR)
over.plot([285.7, 285.7, 359, 359], [397, 341, 341, 398], **BR)
over.plot([268, 237, 237, 268], [406.7, 406.7, 463, 463], **BR)
over.plot([525, 525, 572.7, 572.7], [392, 368.3, 368.3, 391], **BR)
over.plot([504, 478, 478, 502], [475, 475, 570, 570], **BR)
over.plot([498, 502, None, 498, 498, 503], [551, 551, None, 551, 588, 588], **BR)

for x_, y_, s_, r_ in ((220, 501.7, "Plasmatic DEMs (PC)", 270), (104, 691, "Microbial DEMs (Lipid)", 0),
                       (452, 476, "Plasmatic DEMs (PE&PI&PS)", 270), (345.7, 641.7, "Microbial DEMs (Lipid)", 0),
                       (744, 472.7, "Plasmatic DEMs (Other lipids)", 270), (562, 645.7, "Microbial DEMs (Lipid)", 0)):
    over.text(x_, y_, s_, rotation=r_, ha='center', va='center', fontsize=5.6, color='#333333')

# colour bar
cax = ax_px(397.7, 684, 571.5, 696)
cax.imshow([BAR_LEVELS], cmap=CMAP, vmin=-.5, vmax=9.5, aspect='auto', interpolation='nearest')
cax.axis('off')
for x_, s_ in zip((395, 442, 484, 525, 572.7), BAR_TICKS):
    over.text(x_, 677, s_, ha='center', va='center', fontsize=6.5, color='#333333')

for x_, y_, s_ in ((34, 5, "A"), (32.7, 144, "B"), (264, 5, "C"), (497, 5, "D"), (32, 331, "E")):
    over.text(x_, y_, s_, ha='center', va='center', fontsize=8, fontweight='bold', color='#111111')

fig.savefig("out.png", dpi=100)
